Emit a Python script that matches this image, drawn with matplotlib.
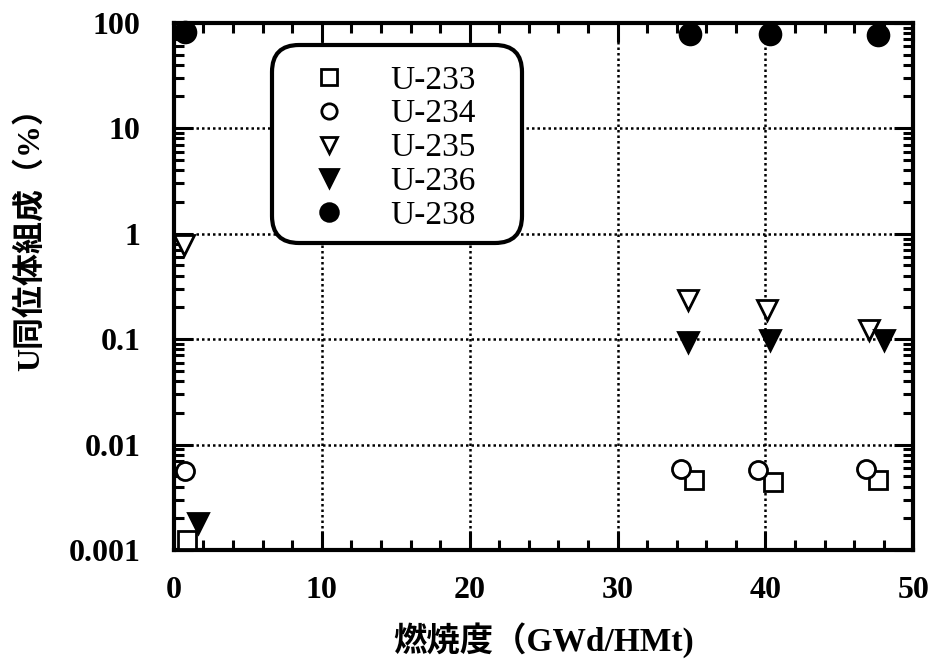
import matplotlib
matplotlib.use("Agg")
import matplotlib.pyplot as plt
from matplotlib.patches import FancyBboxPatch
from matplotlib.ticker import MultipleLocator, LogLocator, NullFormatter, FixedLocator

# Burnup (GWd/HMt) and uranium isotope composition (%)
u233_x = [0.9, 35.2, 40.5, 47.6]
u233_y = [0.00125, 0.0046, 0.0044, 0.0046]
u234_x = [0.75, 34.3, 39.5, 46.8]
u234_y = [0.0056, 0.0059, 0.0058, 0.0059]
u235_x = [0.7, 34.8, 40.1, 47.0]
u235_y = [0.78, 0.235, 0.19, 0.122]
u236_x = [1.6, 34.8, 40.3, 48.0]
u236_y = [0.0018, 0.093, 0.098, 0.098]
u238_x = [0.75, 34.9, 40.3, 47.6]
u238_y = [82, 78, 78, 77]

x_ticks = [0, 10, 20, 30, 40, 50]
y_ticks = [0.001, 0.01, 0.1, 1, 10, 100]
y_tick_labels = ["0.001", "0.01", "0.1", "1", "10", "100"]

serif = ["Liberation Serif", "DejaVu Serif"]
cjk = ["Liberation Serif", "Noto Sans CJK JP"]

W, H = 9.3, 6.7
fig = plt.figure(figsize=(W, H), dpi=100)
ax = fig.add_axes([0.187, 0.179, 0.795, 0.787])

mew = 2.0
series = [
    (u233_x, u233_y, "s", "white", 13, "U-233"),
    (u234_x, u234_y, "o", "white", 13, "U-234"),
    (u235_x, u235_y, "v", "white", 14, "U-235"),
    (u236_x, u236_y, "v", "black", 15, "U-236"),
    (u238_x, u238_y, "o", "black", 15, "U-238"),
]
handles = []
for xs, ys, m, fc, ms, lab in series:
    h, = ax.plot(xs, ys, linestyle="none", marker=m, markersize=ms,
                 markerfacecolor=fc, markeredgecolor="black",
                 markeredgewidth=mew, label=lab, clip_on=False, zorder=5)
    handles.append(h)

ax.set_yscale("log")
ax.set_xlim(0, 50)
ax.set_ylim(0.001, 100)

ax.xaxis.set_major_locator(FixedLocator(x_ticks))
ax.xaxis.set_minor_locator(MultipleLocator(2))
ax.yaxis.set_major_locator(FixedLocator(y_ticks))
ax.yaxis.set_minor_locator(LogLocator(base=10, subs=range(2, 10)))
ax.yaxis.set_minor_formatter(NullFormatter())
ax.set_xticklabels([str(t) for t in x_ticks])
ax.set_yticklabels(y_tick_labels)

ax.tick_params(which="major", direction="in", length=14, width=2.2,
               top=True, right=True, labelsize=23)
ax.tick_params(which="minor", direction="in", length=7, width=2.2,
               top=True, right=True)
ax.tick_params(axis="x", which="major", pad=19)
ax.tick_params(axis="y", which="major", pad=24)
for lbl in ax.get_xticklabels() + ax.get_yticklabels():
    lbl.set_family(serif)
    lbl.set_fontweight("bold")

for sp in ax.spines.values():
    sp.set_linewidth(3)

ax.grid(True, which="major", color="black", linestyle=(0, (1, 1.2)),
        linewidth=1.8)
ax.set_axisbelow(True)

ax.set_xlabel("燃焼度（GWd/HMt)", family=cjk, fontsize=24,
              fontweight="bold")
ax.xaxis.set_label_coords(0.5, -0.137)
ax.set_ylabel("U同位体組成（%）", family=cjk, fontsize=23,
              fontweight="bold")
ax.yaxis.set_label_coords(-0.172, 0.605)

# Rounded white box behind the legend (inches, so the corners stay round)
box_x0, box_x1 = 2.72, 5.22
box_y0, box_y1 = H - 2.43, H - 0.45
rad = 0.27
box = FancyBboxPatch((box_x0 + rad, box_y0 + rad),
                     box_x1 - box_x0 - 2 * rad, box_y1 - box_y0 - 2 * rad,
                     boxstyle=f"round,pad={rad}",
                     transform=fig.dpi_scale_trans,
                     facecolor="white", edgecolor="black", linewidth=3,
                     zorder=4)
fig.add_artist(box)

leg = fig.legend(handles=handles, loc="center",
                 bbox_to_anchor=(394 / 930, 1 - 148 / 670),
                 prop={"family": serif, "size": 24},
                 labelspacing=0.1, handlelength=1.0, handletextpad=1.35,
                 borderpad=0.2, frameon=False, markerscale=0.85)
leg.set_zorder(6)

fig.savefig("out.png", dpi=100, facecolor="white")
